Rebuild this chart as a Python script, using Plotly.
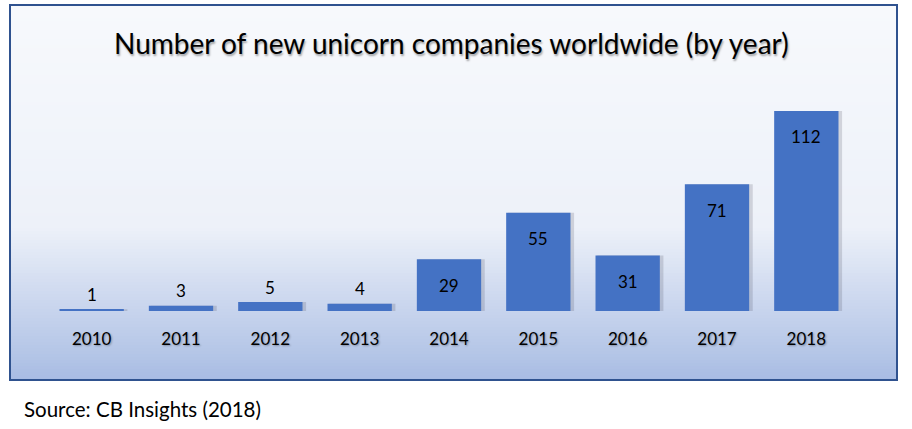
import plotly.graph_objects as go

years = ["2010", "2011", "2012", "2013", "2014", "2015", "2016", "2017", "2018"]
new_unicorns = [1, 3, 5, 4, 29, 55, 31, 71, 112]
title_text = "Number of new unicorn companies worldwide (by year)"
source_text = "Source: CB Insights (2018)"

W, H = 912, 429
ML, MR, MT, MB = 47, 61, 60, 118
PW, PH = W - ML - MR, H - MT - MB


def px(x):
    return (x - ML) / PW


def py(y):
    return (H - MB - y) / PH


def mix(c1, c2, t):
    return "rgb(%d,%d,%d)" % tuple(round(a + (b - a) * t) for a, b in zip(c1, c2))


shapes = []
top, mid, bot = 6, 225, 379
c_top, c_mid, c_bot = (247, 249, 252), (237, 241, 249), (168, 188, 227)
step = 3
y = top
while y < bot:
    y2 = min(y + step, bot)
    if y < mid:
        col = mix(c_top, c_mid, (y - top) / (mid - top))
    else:
        col = mix(c_mid, c_bot, (y - mid) / (bot - mid))
    shapes.append(dict(type="rect", xref="paper", yref="paper", x0=px(11), x1=px(896),
                       y0=py(y2 + 0.5), y1=py(y), fillcolor=col, line=dict(width=0), layer="below"))
    y = y2
shapes.append(dict(type="rect", xref="paper", yref="paper", x0=px(10), x1=px(897),
                   y0=py(380), y1=py(5), line=dict(color="#2F528F", width=2), layer="above"))

fig = go.Figure()
# soft shadow
fig.add_trace(go.Bar(x=years, y=new_unicorns, marker=dict(color="rgba(60,60,80,0.18)", line=dict(width=0)),
                     offset=-0.34, width=0.74, hoverinfo="skip", showlegend=False))
fig.add_trace(go.Bar(x=years, y=new_unicorns, marker=dict(color="#4472C4", line=dict(width=0)),
                     offset=-0.36, width=0.72, showlegend=False))

annotations = []
for i, v in enumerate(new_unicorns):
    big = v > 15
    annotations.append(dict(x=i, y=v, xref="x", yref="y", text=str(v), showarrow=False,
                            xanchor="center", yanchor="middle",
                            yshift=-26 if big else 15,
                            font=dict(family="Lato", size=17, color="black")))
annotations.append(dict(x=px(452), y=py(43), xref="paper", yref="paper", text=title_text,
                        showarrow=False, xanchor="center", yanchor="middle",
                        font=dict(family="Lato", size=28, color="black",
                                  shadow="1px 2px 2px rgba(0,0,0,0.35)")))
annotations.append(dict(x=px(22), y=py(409), xref="paper", yref="paper", text=source_text,
                        showarrow=False, xanchor="left", yanchor="middle",
                        font=dict(family="Lato", size=20.5, color="black")))

fig.update_layout(
    width=W, height=H, margin=dict(l=ML, r=MR, t=MT, b=MB),
    paper_bgcolor="white", plot_bgcolor="rgba(0,0,0,0)",
    barmode="overlay", shapes=shapes, annotations=annotations,
    xaxis=dict(type="category", range=[-0.5, 8.5], showgrid=False, zeroline=False, showline=False,
               ticks="outside", ticklen=13, tickcolor="rgba(0,0,0,0)",
               tickfont=dict(family="Lato", size=17, color="black",
                             shadow="1px 1px 2px rgba(0,0,0,0.3)")),
    yaxis=dict(range=[0, 140.5], visible=False),
)

fig.write_html("out.html", config={"displayModeBar": False},
               post_script="document.body.style.margin='0px';")
